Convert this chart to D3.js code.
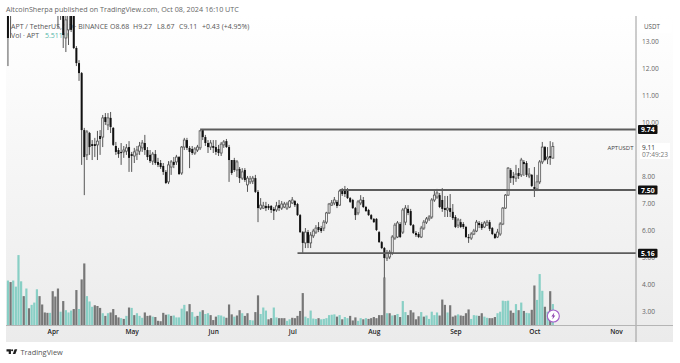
<!DOCTYPE html>
<html>
<head>
<meta charset="utf-8">
<script src="https://cdn.jsdelivr.net/npm/d3@7"></script>
<style>
html,body{margin:0;padding:0;background:#fff;}
svg{display:block;}
text{font-family:"Open Sans","DejaVu Sans",sans-serif;}
</style>
</head>
<body>
<svg id="c" width="680" height="363"></svg>
<script>
const firstDay = "2024-03-15";
const opens = [14.17,14.4,14.3,14.9,15.6,15.0,15.9,15.2,16.0,16.6,
16.9,17.3,18.1,17.6,17.0,16.4,16.2,16.4,15.7,15.0,
14.5,14.35,13.13,13.43,14.17,14.17,12.76,12.2,11.83,9.72,
8.80,9.61,9.20,9.20,9.17,9.50,9.46,10.20,9.91,10.17,
9.80,9.13,8.98,8.91,8.91,8.94,9.09,8.83,8.76,8.83,
8.94,9.06,9.24,8.98,8.80,8.57,8.83,8.54,8.50,8.39,
8.17,7.80,8.35,8.54,8.54,8.72,8.13,9.09,9.35,9.06,
9.02,8.87,8.98,9.06,9.72,9.46,9.24,9.09,9.13,9.09,
9.02,8.87,9.17,9.31,9.09,8.61,8.61,8.24,8.28,7.94,
8.24,7.69,7.80,7.83,7.94,7.43,6.83,6.83,6.91,6.91,
6.91,6.80,6.76,6.94,6.83,6.87,6.83,6.87,7.02,7.09,
6.98,6.57,5.94,5.54,5.94,5.54,5.80,5.94,6.13,6.09,
6.09,6.31,6.65,6.94,7.02,7.06,6.94,7.46,7.50,7.50,
7.20,7.13,6.83,6.65,7.02,7.13,6.87,6.76,6.57,6.43,
6.43,5.94,5.57,5.35,4.98,5.02,5.17,5.72,5.76,6.24,
5.94,6.31,6.80,6.72,6.20,5.91,5.87,5.76,6.09,6.31,
6.43,6.50,7.13,7.24,7.31,7.13,6.83,6.76,6.83,6.69,
6.50,6.20,6.31,6.24,6.13,5.76,5.72,5.87,5.98,6.28,
6.24,6.13,6.20,6.31,6.09,5.87,5.76,5.87,6.24,6.83,
7.31,8.24,8.02,7.94,8.13,8.06,8.54,8.50,8.02,8.06,
7.61,7.54,7.80,8.54,9.09,8.65,8.76,8.68];
const highs = [15.0,15.2,15.4,16.0,16.2,16.4,16.3,16.5,17.2,17.4,
17.8,18.6,18.5,17.9,17.3,16.8,16.9,16.8,16.0,15.3,
15.2,14.54,14.35,14.35,14.54,14.54,12.83,12.31,11.87,9.80,
9.72,9.65,9.35,9.43,9.69,9.72,10.28,10.35,10.35,10.39,
9.83,9.28,9.06,9.24,9.13,9.20,9.31,8.91,9.06,9.13,
9.28,9.35,9.54,9.09,8.98,8.91,8.98,8.69,8.61,8.50,
8.24,8.57,8.61,8.72,8.80,8.76,9.13,9.43,9.43,9.13,
9.13,9.09,9.17,9.72,9.76,9.54,9.35,9.35,9.35,9.35,
9.17,9.28,9.35,9.39,9.17,8.61,8.69,8.61,8.35,8.31,
8.31,8.02,8.02,8.02,8.06,7.50,7.20,7.06,7.06,6.98,
6.94,6.87,7.06,7.13,7.09,7.06,7.06,7.13,7.24,7.13,
7.02,6.61,5.98,6.09,6.02,5.94,6.06,6.20,6.31,6.17,
6.39,6.69,7.02,7.13,7.24,7.13,7.50,7.57,7.65,7.57,
7.24,7.17,6.87,7.13,7.31,7.24,6.91,6.80,6.61,6.46,
6.46,5.98,5.61,5.39,5.28,5.28,5.83,6.28,6.35,6.31,
6.83,6.94,6.94,6.80,6.24,5.98,5.94,6.17,6.39,6.50,
6.57,7.20,7.50,7.54,7.39,7.57,7.28,7.28,7.35,6.98,
6.57,6.46,6.43,6.31,6.17,5.87,5.94,6.06,6.39,6.35,
6.31,6.35,6.39,6.39,6.13,5.91,6.06,6.31,6.87,7.35,
8.35,8.31,8.17,8.43,8.31,8.69,8.61,8.57,8.31,8.09,
8.35,8.06,8.61,9.28,9.13,9.09,9.31,9.27];
const lows = [12.09,13.13,14.1,14.6,14.7,14.8,14.9,15.0,15.8,16.2,
16.5,17.0,17.2,16.6,16.0,15.8,15.9,15.4,14.6,13.50,
13.8,12.76,12.61,12.87,13.35,12.72,12.09,11.54,8.43,7.31,
8.61,8.80,8.61,8.72,8.61,8.80,9.09,9.91,9.72,9.61,
9.13,8.80,8.69,8.43,8.69,8.80,8.17,8.17,8.50,8.61,
8.80,8.91,8.80,8.61,8.50,8.43,8.43,8.35,8.28,8.06,
7.72,7.72,8.06,8.31,8.43,8.06,8.06,8.98,8.98,8.31,
8.80,8.80,8.91,8.98,9.35,9.13,8.87,8.98,8.87,8.80,
8.76,8.76,9.06,9.06,7.80,8.06,8.17,7.98,7.76,7.87,
7.80,7.43,7.72,7.72,7.39,6.31,6.76,6.80,6.72,6.76,
6.65,6.39,6.69,6.72,6.76,6.83,6.76,6.83,6.98,6.87,
6.54,5.91,5.17,5.35,5.35,5.35,5.72,5.87,5.94,5.91,
5.98,6.24,6.61,6.91,6.94,6.83,6.91,7.28,7.24,7.17,
7.02,6.80,6.39,6.57,6.94,6.83,6.69,6.54,6.39,6.28,
5.98,5.54,5.31,4.24,4.87,4.94,5.09,5.65,5.72,5.72,
5.87,6.20,6.57,6.17,5.87,5.76,5.72,5.72,6.02,6.24,
6.35,6.43,7.06,7.17,6.83,6.69,6.50,6.50,6.50,6.39,
6.09,6.09,6.09,6.06,5.72,5.54,5.65,5.83,5.94,6.09,
6.02,6.09,6.17,5.98,5.83,5.69,5.72,5.80,6.20,6.80,
7.28,7.76,7.69,7.80,7.91,7.98,8.02,7.98,7.94,7.61,
7.24,7.46,7.72,8.46,8.57,8.46,8.43,8.67];
const closes = [13.13,14.1,14.9,15.6,15.0,15.9,15.2,16.0,16.6,16.9,
17.3,18.1,17.6,17.0,16.4,16.2,16.4,15.7,15.0,14.5,
14.9,13.24,13.8,13.98,13.43,12.76,12.2,11.83,9.72,8.72,
9.65,9.09,9.13,9.13,9.31,9.39,10.17,10.02,10.17,9.83,
9.17,8.91,8.83,8.87,8.98,9.06,8.69,8.76,8.91,8.98,
9.13,9.24,8.98,8.72,8.57,8.83,8.50,8.43,8.35,8.17,
7.76,8.43,8.54,8.43,8.72,8.09,9.09,9.35,9.06,8.91,
8.87,9.02,9.09,9.69,9.46,9.24,9.09,9.24,9.06,8.91,
8.87,9.20,9.28,9.09,8.61,8.13,8.24,8.54,7.94,8.17,
7.87,7.94,7.91,7.94,7.43,6.83,6.94,6.91,6.83,6.83,
6.76,6.72,6.91,6.83,6.98,6.98,6.98,7.09,7.13,6.94,
6.57,5.94,5.54,5.94,5.54,5.83,5.98,6.09,6.02,5.98,
6.31,6.65,6.98,7.02,7.13,6.91,7.46,7.35,7.35,7.20,
7.06,6.83,6.57,7.06,7.13,6.87,6.72,6.57,6.43,6.31,
6.02,5.57,5.35,4.98,5.17,5.20,5.76,6.20,6.28,5.76,
6.76,6.83,6.65,6.20,5.91,5.83,5.76,6.09,6.31,6.43,
6.50,7.13,7.31,7.39,6.87,6.80,6.76,6.83,6.69,6.46,
6.13,6.39,6.13,6.13,5.76,5.72,5.87,5.98,6.31,6.20,
6.09,6.28,6.31,6.06,5.87,5.72,5.94,6.24,6.83,7.31,
8.31,7.94,7.94,8.09,8.02,8.61,8.46,8.06,8.09,7.65,
7.54,7.80,8.54,9.09,8.61,8.72,8.69,9.11];
const volumes = [11.7,11.3,11.7,10.1,18.4,11.5,7.6,9.6,4.4,5.3,
5.9,9.4,7.6,5.4,3.3,3.2,3.2,8.9,7.5,9.6,
3.5,6.3,3.9,3.3,3.8,4.2,9.2,4.2,12.0,16.2,
7.6,6.2,4.8,5.2,5.0,4.5,3.1,2.4,3.1,3.3,
4.2,2.6,2.0,1.8,1.6,2.4,4.6,4.5,2.6,3.1,
2.4,1.9,3.3,2.4,2.5,2.2,2.1,1.1,1.0,3.2,
2.7,2.8,2.4,2.5,2.0,2.0,4.3,5.3,3.6,5.5,
3.4,2.2,2.4,3.5,3.9,2.9,3.1,2.6,1.3,2.2,
2.6,2.5,2.2,1.9,5.4,2.8,2.2,2.5,3.9,3.1,
2.4,3.1,1.3,1.2,3.4,7.8,2.9,4.6,3.8,1.5,
1.8,4.6,2.0,1.8,1.8,1.8,1.1,1.5,1.9,1.8,
2.4,3.7,8.4,2.2,1.8,3.8,1.7,1.6,1.8,1.5,
1.6,1.8,2.6,2.7,2.8,2.2,2.6,1.5,2.1,1.8,
2.4,1.2,2.0,1.1,1.8,1.5,1.8,1.6,1.8,2.1,
1.8,2.6,2.6,12.5,3.1,3.1,2.5,2.6,2.9,2.1,
6.3,3.4,2.6,3.9,3.3,1.5,2.3,3.4,2.2,2.5,
1.6,3.5,2.6,3.3,2.5,6.7,5.3,3.3,5.2,2.2,
2.5,2.8,2.5,2.4,3.1,4.1,1.6,2.6,2.5,2.4,
3.1,2.2,1.9,1.8,1.8,2.1,3.1,3.5,6.4,6.3,
6.4,3.8,3.2,5.5,3.9,5.9,3.7,3.2,3.1,4.0,
10.4,6.6,13.4,9.0,4.8,3.5,8.9,5.511];
const volumeUp = [1,0,1,1,1,1,0,1,0,1,
1,1,0,0,0,0,1,0,0,0,
1,0,1,1,1,0,0,1,0,0,
1,1,1,0,0,0,1,0,1,0,
0,0,0,1,0,1,0,1,0,1,
1,1,0,0,0,1,0,0,0,0,
0,1,0,1,1,1,1,1,0,0,
1,1,0,1,0,1,1,0,0,0,
1,1,1,0,0,0,1,0,0,1,
0,0,1,1,0,0,1,1,1,0,
0,1,1,0,0,0,1,1,0,0,
0,0,0,1,1,1,1,1,0,1,
1,1,1,1,1,0,1,0,1,1,
0,0,0,1,1,0,1,0,0,0,
0,0,0,0,1,0,1,0,1,0,
1,1,0,0,0,0,0,1,0,1,
1,1,1,1,0,0,0,1,0,0,
0,1,0,0,0,0,1,1,1,0,
0,1,1,0,0,0,1,1,1,1,
1,0,0,1,0,1,0,1,1,0,
0,1,1,1,0,1,0,1];
const priceTicks = [13,12,11,10,8,7,6,5,4,3];
const levels = [{v:9.74,from:"2024-05-27"},{v:7.50,from:"2024-07-19"},{v:5.16,from:"2024-07-03"}];
const monthTicks = ["2024-04-01","2024-05-01","2024-06-01","2024-07-01","2024-08-01","2024-09-01","2024-10-01","2024-11-01"];
const headerText = "AltcoinSherpa published on TradingView.com, Oct 08, 2024 16:10 UTC";
const legendParts = ["APT / TetherUS, 1D · BINANCE","O8.68","H9.27","L8.67","C9.11","+0.43 (+4.95%)"];

const svg = d3.select("#c");
const pd = s => d3.timeParse("%Y-%m-%d")(s);
const dates = opens.map((_,i)=>d3.timeDay.offset(pd(firstDay),i));
const x = d3.scaleTime().domain([pd("2024-04-01"),pd("2024-11-01")]).range([52.7,616]);
const y = d3.scaleLinear().domain([13,3]).range([41.5,311.5]);
const yVol = d3.scaleLinear().domain([0,10]).range([325,287]);

const defs = svg.append("defs");
const g = defs.append("linearGradient").attr("id","bg").attr("x1",0).attr("x2",0).attr("y1",0).attr("y2",1);
g.append("stop").attr("offset","0").attr("stop-color","#ffffff");
g.append("stop").attr("offset","1").attr("stop-color","#ebebeb");
defs.append("clipPath").attr("id","plot").append("rect").attr("x",6).attr("y",16).attr("width",630).attr("height",309);

svg.append("rect").attr("x",6).attr("y",16).attr("width",667).attr("height",326).attr("fill","url(#bg)");

const plot = svg.append("g").attr("clip-path","url(#plot)");
const idx = d3.range(opens.length);

plot.append("g").selectAll("rect").data(idx).join("rect")
  .attr("x",i=>x(dates[i])-1.1).attr("width",2.2)
  .attr("y",i=>yVol(volumes[i])).attr("height",i=>yVol(0)-yVol(volumes[i]))
  .attr("fill",i=>volumeUp[i]?"#88cfc5":"#777777");

// Legend text sits under the candles
const legendX = [11,110,133,157,179,202];
const legend = svg.append("g").attr("font-size",7).attr("fill","#555");
legend.append("g").selectAll("text").data(legendParts).join("text")
  .attr("x",(d,i)=>legendX[i]).attr("y",28.5).text(d=>d);
const volLine = legend.append("text").attr("x",11).attr("y",38);
volLine.append("tspan").text("Vol · APT");
volLine.append("tspan").attr("x",45).attr("fill","#58b7aa").text("5.511M");
svg.append("text").attr("x",6).attr("y",12).attr("font-size",7.2).attr("fill","#666").text(headerText);

const plot2 = svg.append("g").attr("clip-path","url(#plot)");
plot2.append("g").selectAll("line").data(idx).join("line")
  .attr("x1",i=>x(dates[i])).attr("x2",i=>x(dates[i]))
  .attr("y1",i=>y(highs[i])).attr("y2",i=>y(lows[i]))
  .attr("stroke","#555").attr("stroke-width",1);
plot2.append("g").selectAll("rect").data(idx).join("rect")
  .attr("x",i=>x(dates[i])-1).attr("width",2)
  .attr("y",i=>y(Math.max(opens[i],closes[i])))
  .attr("height",i=>Math.max(1.2,Math.abs(y(opens[i])-y(closes[i]))))
  .attr("fill",i=>closes[i]>=opens[i]?"#f4f4f4":"#111")
  .attr("stroke",i=>closes[i]>=opens[i]?"#555":"none")
  .attr("stroke-width",0.8);

// Horizontal levels
svg.append("g").selectAll("line").data(levels).join("line")
  .attr("x1",d=>x(pd(d.from))).attr("x2",636)
  .attr("y1",d=>y(d.v)).attr("y2",d=>y(d.v))
  .attr("stroke","#5c5c5c").attr("stroke-width",1.8);

// Axis frame
svg.append("line").attr("x1",636).attr("x2",636).attr("y1",16).attr("y2",342).attr("stroke","#9a9a9a");
svg.append("line").attr("x1",6).attr("x2",673).attr("y1",325.5).attr("y2",325.5).attr("stroke","#b5b5b5");

// Price axis
const axisR = d3.axisRight(y).tickValues(priceTicks).tickSize(0).tickPadding(6).tickFormat(d3.format(".2f"));
const ay = svg.append("g").attr("transform","translate(636,0)").call(axisR);
ay.select(".domain").remove();
ay.selectAll("text").attr("font-size",6.6).attr("fill","#666").attr("font-family",'"Open Sans","DejaVu Sans",sans-serif');

// Time axis
const axisB = d3.axisBottom(x).tickValues(monthTicks.map(pd)).tickSize(0).tickPadding(4).tickFormat(d3.timeFormat("%b"));
const ax = svg.append("g").attr("transform","translate(0,325)").call(axisB);
ax.select(".domain").remove();
ax.selectAll("text").attr("font-size",6.6).attr("fill","#222").attr("font-weight",600).attr("font-family",'"Open Sans","DejaVu Sans",sans-serif');

// USDT box
svg.append("rect").attr("x",639).attr("y",19).attr("width",33).attr("height",14).attr("rx",2).attr("fill","#fff");
svg.append("text").attr("x",644).attr("y",28.5).attr("font-size",6.2).attr("fill","#555").text("USDT");

// Last price box
svg.append("rect").attr("x",640).attr("y",143).attr("width",30).attr("height",16).attr("fill","#fff");
svg.append("text").attr("x",642).attr("y",149.5).attr("font-size",6.5).attr("fill","#333").text(closes[closes.length-1].toFixed(2));
svg.append("text").attr("x",642).attr("y",157).attr("font-size",6.6).attr("fill","#777").text("07:49:23");
svg.append("text").attr("x",633.5).attr("y",149.5).attr("text-anchor","end").attr("font-size",6).attr("fill","#444").text("APTUSDT");

// Level labels
const lab = svg.append("g").selectAll("g").data(levels).join("g").attr("transform",d=>`translate(638,${y(d.v)})`);
lab.append("rect").attr("x",0).attr("y",-4.5).attr("width",19.5).attr("height",9).attr("rx",1).attr("fill","#111");
lab.append("text").attr("x",9.75).attr("y",2.5).attr("text-anchor","middle").attr("font-size",6.8).attr("font-weight",700).attr("fill","#fff").text(d=>d.v.toFixed(2));

// Lightning marker
const mark = svg.append("g").attr("transform",`translate(${x(dates[dates.length-1])+0.5},316)`);
mark.append("circle").attr("r",6).attr("fill","#fff").attr("stroke","#a45fc9").attr("stroke-width",1.1);
mark.append("path").attr("d","M1,-3.6 L-2,0.6 L-0.3,0.6 L-1,3.6 L2,-0.6 L0.3,-0.6 Z").attr("fill","#8e44ad");

// Brand mark
const logo = svg.append("g").attr("transform","translate(6.5,349.2) scale(0.74)").attr("fill","#1f1f1f");
logo.append("path").attr("d","M0,0 H6 V6.5 H3 V3 H0 Z");
logo.append("circle").attr("cx",7.6).attr("cy",1.5).attr("r",1.4);
logo.append("path").attr("d","M8.5,6.5 L11,0 H14.5 L12,6.5 Z");
svg.append("text").attr("x",20.5).attr("y",355).attr("font-size",7.4).attr("fill","#555").text("TradingView");
</script>
</body>
</html>
